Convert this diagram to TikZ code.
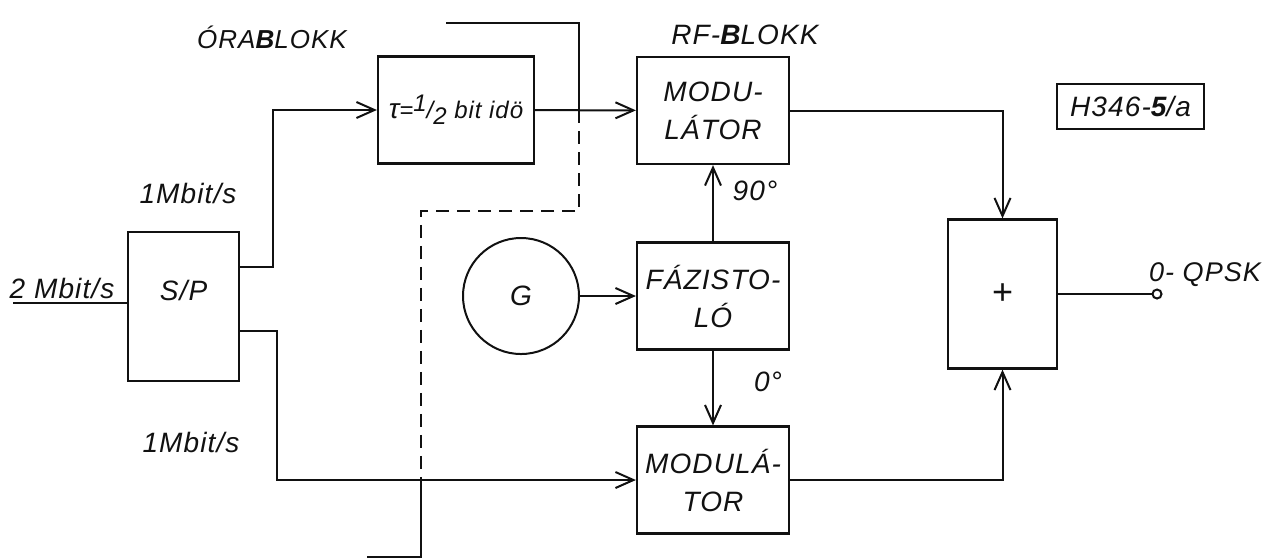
\documentclass[tikz,border=0pt]{standalone}
\usepackage{fontspec}
\setmainfont{Liberation Sans}[LetterSpace=4]
\usetikzlibrary{arrows.meta,calc}
\definecolor{ink}{HTML}{111111}

\begin{document}
\begin{tikzpicture}[
  x=0.5pt, y=-0.5pt,
  font=\itshape\fontsize{14}{19}\selectfont,
  >={Straight Barb[length=9pt,width=8pt]},
  block/.style={draw=ink, line width=1.1pt, minimum width=76pt, minimum height=53.5pt, inner sep=2pt, align=center, text=ink},
  gen/.style={circle, draw=ink, line width=1pt, minimum size=58pt, inner sep=0pt, text=ink},
  terminal/.style={circle, draw=ink, line width=1pt, minimum size=4.5pt, inner sep=0pt},
  wire/.style={draw=ink, line width=1pt},
  border/.style={draw=ink, line width=1pt, dash pattern=on 6.5pt off 4pt},
  lbl/.style={text=ink, inner sep=0pt},
  big/.style={font=\itshape\fontsize{14}{16}\selectfont}
]
\useasboundingbox (0,0) rectangle (1283,559);

% blocks
\node[block, minimum width=55.5pt, minimum height=74.5pt] (sp) at (183.5,306.5) {\raisebox{0pt}[\height][\dimexpr\depth+16pt]{S/P}};
\node[block, minimum width=78pt, font=\itshape\fontsize{12}{16}\selectfont] (tau) at (456,110) {{\fontsize{14}{16}\selectfont τ}=\raisebox{0.5ex}{1}/\raisebox{-0.5ex}{2} bit idö};
\node[block] (modA) at (713,110.5) {MODU-\\LÁTOR};
\node[block] (faz) at (713,296) {FÁZISTO-\\LÓ};
\node[block] (modB) at (713,480) {MODULÁ-\\TOR};
\node[gen] (G) at (521,296) {G};
\node[block, minimum width=54.5pt, minimum height=74.5pt, font=\upshape\fontsize{18}{18}\selectfont] (sum) at (1002.5,294) {+};
\node[block, minimum width=73.5pt, minimum height=22.5pt] (code) at (1130.5,106.5) {H346-\textbf{5}/a};
\node[terminal] (out) at (1157,294) {};

% labels
\node[lbl, font=\itshape\fontsize{13}{15}\selectfont] (clkname) at (272,37) {ÓRA\textbf{B}LOKK};
\node[lbl, big] (rfname) at (745,35) {RF-\textbf{B}LOKK};
\node[lbl, big] (ratein) at (62,288) {2 Mbit/s};
\node[lbl, big] (rateup) at (188,193) {1Mbit/s};
\node[lbl, big] (ratelo) at (191,442) {1Mbit/s};
\node[lbl, big] (deg90) at (755,191) {90°};
\node[lbl, big] (deg0) at (768,382) {0°};
\node[lbl, font=\itshape\fontsize{13.5}{15}\selectfont] (outname) at (1205,275) {0- QPSK};

% data path
\coordinate (in) at (13,303);
\coordinate (spup) at ($(sp.north east)!0.24!(sp.south east)$);
\coordinate (splo) at ($(sp.north east)!0.66!(sp.south east)$);
\draw[wire] (in) -- (in -| sp.west);
\draw[wire,->] (spup) -| ($(tau.west)+(-104,0)$) -- (tau.west);
\draw[wire,->] (splo) -| ($(modB.west)+(-359,0)$) -- (modB.west);
\draw[wire,->] (tau) -- (modA);
\draw[wire,->] (G) -- (faz);
\draw[wire,->] (faz) -- (modA);
\draw[wire,->] (faz) -- (modB);
\draw[wire,->] (modA.east) -| (sum.north);
\draw[wire,->] (modB.east) -| (sum.south);
\draw[wire] (sum.east) -- (out);

% block boundary
\coordinate (clkin) at (446,23);
\coordinate (clkout) at (367,557);
\coordinate (tapA) at ($(tau.east)!0.44!(modA.west)$);
\coordinate (bendB) at (421,211);
\coordinate (cross) at (bendB |- modB.west);
\draw[wire] (clkin) -| (tapA);
\draw[border] (tapA) |- (bendB) -- (cross);
\draw[wire] (cross) |- (clkout);

\end{tikzpicture}
\end{document}
